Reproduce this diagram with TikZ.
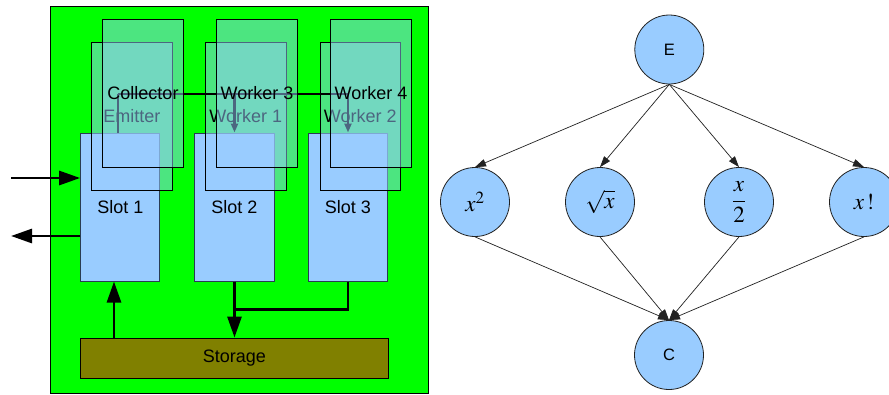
\documentclass[tikz,border=0pt]{standalone}
\usepackage{amsmath}
\usepackage{mathptmx}
\usepackage{fontspec}
\setmainfont{Liberation Sans}
\usetikzlibrary{arrows.meta,calc}
\definecolor{bggreen}{HTML}{00FF00}
\definecolor{slotblue}{HTML}{99CCFF}
\definecolor{storagecol}{HTML}{808000}
\definecolor{slotline}{HTML}{2A3C52}
\definecolor{edgecol}{HTML}{222222}
\tikzset{
  slotbox/.style={draw=slotline, line width=1pt, fill=slotblue, minimum width=79.3pt, minimum height=148pt, inner sep=0pt, font=\fontsize{18}{20}\selectfont},
  storebox/.style={draw=black, line width=0.9pt, fill=storagecol, minimum width=307.3pt, minimum height=40pt, inner sep=0pt, font=\fontsize{18}{20}\selectfont},
  layerbox/.style={draw=black, line width=0.9pt, fill=slotblue, fill opacity=0.5, draw opacity=1, text opacity=1, minimum width=80.3pt, minimum height=148pt, inner sep=0pt, font=\fontsize{18}{20}\selectfont},
  bigarrow/.style={line width=2.8pt, -{Triangle[length=21pt,width=14pt]}},
  thickline/.style={line width=2.8pt},
  midline/.style={line width=2.4pt, black},
  smallhead/.style={-{Triangle[length=9pt,width=7pt]}},
  circ/.style={circle, draw=edgecol, line width=0.8pt, fill=slotblue, minimum size=69pt, inner sep=0pt},
  mathlabel/.style={font=\fontsize{23}{27}\selectfont},
  letterlabel/.style={font=\fontsize{16.5}{18}\selectfont},
  edgearrow/.style={draw=edgecol, line width=0.7pt, -{Triangle[length=11pt,width=7.5pt]}}
}
\begin{document}
\begin{tikzpicture}[x=1pt,y=-1pt]
\useasboundingbox (0,0) rectangle (889,394);
\fill[white] (0,0) rectangle (889,394);
% green background
\draw[fill=bggreen, line width=1pt] (50.5,6.5) rectangle (428,393.5);
% slots and storage
\node[slotbox] (s1) at (120.3,207) {Slot 1};
\node[slotbox] (s2) at (234.5,207) {Slot 2};
\node[slotbox] (s3) at (348,207) {Slot 3};
\node[storebox] (st) at (234.3,358) {Storage};
% bottom arrows
\coordinate (u1) at ([xshift=-6.3pt]s1.south);
\draw[bigarrow] (u1 |- st.north) -- (u1);
\draw[bigarrow] (s2.south) -- (s2.south |- st.north);
\draw[thickline] (s3.south) |- ($(s2.south)!0.5!(s2.south |- st.north)$);
% in / out arrows
\coordinate (inA) at (11,178);
\coordinate (outA) at (11,236);
\draw[bigarrow] (inA) -- (inA -| s1.west);
\draw[bigarrow] (outA -| s1.west) -- (outA);
% lower layer
\node[layerbox] (em) at (131.8,116) {Emitter};
\node[layerbox] (w1) at (245.8,116) {Worker 1};
\node[layerbox] (w2) at (360.3,116) {Worker 2};
% connecting lines
\coordinate (h1) at (118,94);
\draw[midline] (h1) -- (s3.north |- h1);
\draw[midline] (h1) -- (h1 |- s1.north);
\draw[midline, smallhead] (s2.north |- h1) -- (s2.north);
\draw[midline, smallhead] (s3.north |- h1) -- (s3.north);
% upper layer
\node[layerbox] (col) at (143,93.3) {Collector};
\node[layerbox] (w3) at (257,93.3) {Worker 3};
\node[layerbox] (w4) at (371,93.3) {Worker 4};
% right graph
\node[circ, letterlabel] (E) at (669.3,49.5) {E};
\node[circ, mathlabel] (f1) at (475,202) {$x^{2}$};
\node[circ, mathlabel] (f2) at (600,202) {$\sqrt{x}$};
\node[circ, mathlabel] (f3) at (739,202) {$\dfrac{x}{2}$};
\node[circ, mathlabel] (f4) at (864,202) {$x\,!$};
\node[circ, letterlabel] (C) at (669,355) {C};
\foreach \n in {f1,f2,f3,f4} {
  \draw[edgearrow] (E.south) -- (\n.north);
  \draw[edgearrow] (\n.south) -- (C.north);
}
\end{tikzpicture}
\end{document}
